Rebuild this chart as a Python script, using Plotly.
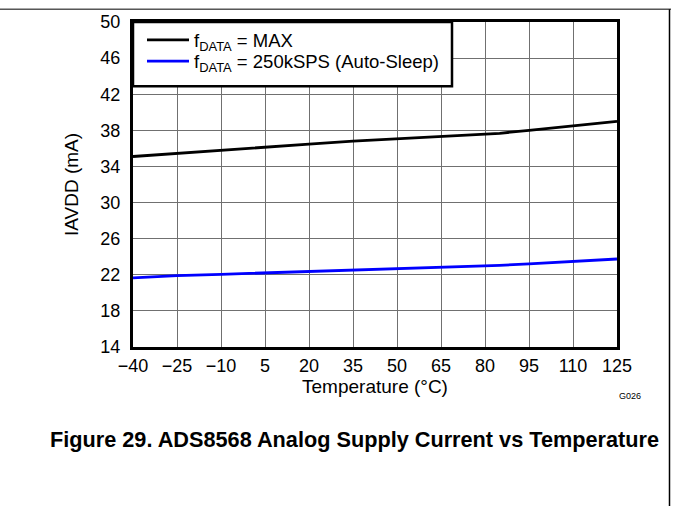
import plotly.graph_objects as go

# Temperature sweep (°C) and analog supply current IAVDD (mA)
temperature = [-40, -25, -10, 5, 20, 35, 50, 65, 85, 95, 110, 125]
iavdd_max = [35.1, 35.45, 35.85, 36.2, 36.47, 36.8, 37.05, 37.3, 37.67, 38.0, 38.5, 39.0]
iavdd_250k = [21.65, 21.9, 22.05, 22.2, 22.36, 22.5, 22.7, 22.85, 23.05, 23.2, 23.5, 23.75]

x_ticks = [-40, -25, -10, 5, 20, 35, 50, 65, 80, 95, 110, 125]
x_tick_text = ["\u221240", "\u221225", "\u221210", "5", "20", "35", "50", "65", "80", "95", "110", "125"]
y_ticks = [14, 18, 22, 26, 30, 34, 38, 42, 46, 50]

FONT = "Liberation Sans, Arial, sans-serif"

L, R, T, B = 133, 617, 18, 347  # plot area in pixels
W, H = 673, 508
pw, ph = R - L, B - T


def px(xp):
    return (xp - L) / pw


def py(yp):
    return (B - yp) / ph


fig = go.Figure()
fig.add_trace(go.Scatter(
    x=temperature, y=iavdd_max, mode="lines",
    name="f<sub>DATA</sub> = MAX",
    line=dict(color="black", width=2.8),
    legend="legend",
))
fig.add_trace(go.Scatter(
    x=temperature, y=iavdd_250k, mode="lines",
    name="f<sub>DATA</sub> = 250kSPS (Auto-Sleep)",
    line=dict(color="#0000ff", width=2.8),
    legend="legend2",
))

shapes = [
    # legend box
    dict(type="rect", xref="paper", yref="paper",
         x0=0, x1=px(452), y0=py(83), y1=1,
         fillcolor="white", line=dict(color="black", width=2.5), layer="above"),
    # page rules
    dict(type="line", xref="paper", yref="paper",
         x0=px(0), x1=px(671), y0=py(5), y1=py(5),
         line=dict(color="black", width=1)),
    dict(type="line", xref="paper", yref="paper",
         x0=px(669.5), x1=px(669.5), y0=py(5), y1=py(508),
         line=dict(color="black", width=1.5)),
]

annotations = [
    dict(text="G026", xref="paper", yref="paper", x=px(630), y=py(397),
         showarrow=False, font=dict(family=FONT, size=9, color="black"),
         xanchor="center", yanchor="middle"),
    dict(text="<b>Figure 29. ADS8568 Analog Supply Current vs Temperature</b>",
         xref="paper", yref="paper", x=px(661), y=py(441),
         showarrow=False, font=dict(family=FONT, size=21.7, color="black"),
         xanchor="right", yanchor="middle"),
]

legend_style = dict(xanchor="left", yanchor="middle",
                    bgcolor="rgba(0,0,0,0)", borderwidth=0,
                    font=dict(family=FONT, size=18.5, color="black"),
                    itemwidth=42)

fig.update_layout(
    width=W, height=H,
    margin=dict(l=L, r=W - R, t=T, b=H - B),
    paper_bgcolor="white", plot_bgcolor="white",
    font=dict(family=FONT, size=18, color="black"),
    showlegend=True,
    legend=dict(x=px(142), y=py(36.5), **legend_style),
    legend2=dict(x=px(142), y=py(58), **legend_style),
    shapes=shapes,
    annotations=annotations,
    xaxis=dict(range=[-40, 125], tickvals=x_ticks, ticktext=x_tick_text,
               showgrid=True, gridcolor="#707070", gridwidth=1,
               showline=True, linecolor="black", linewidth=3, mirror=True,
               ticks="", zeroline=False, ticklabelstandoff=0,
               title=dict(text="Temperature (°C)", standoff=2,
                          font=dict(family=FONT, size=19))),
    yaxis=dict(range=[14, 50], tickvals=y_ticks,
               showgrid=True, gridcolor="#707070", gridwidth=1,
               showline=True, linecolor="black", linewidth=3, mirror=True,
               ticks="", zeroline=False, ticklabelstandoff=6,
               title=dict(text="IAVDD (mA)", standoff=17,
                          font=dict(family=FONT, size=19))),
)

fig.write_html("out.html")
